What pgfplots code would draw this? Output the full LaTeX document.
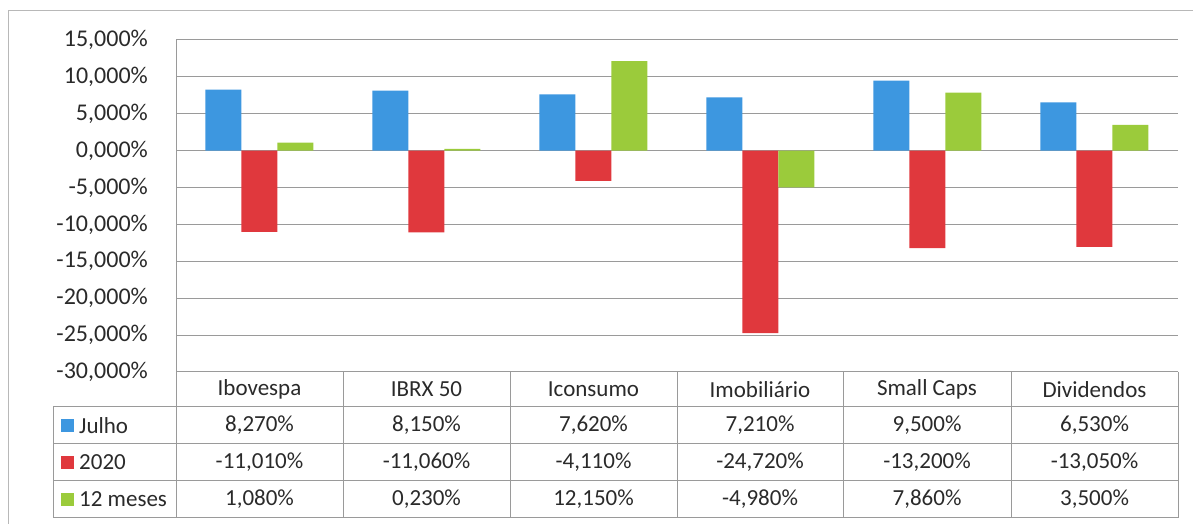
\documentclass[border=0pt]{standalone}
\usepackage{pgfplots}
\pgfplotsset{compat=1.18}
\usepackage{fontspec}
\setmainfont{Carlito}
\definecolor{cblue}{HTML}{3D97E0}
\definecolor{cred}{HTML}{E0383D}
\definecolor{cgreen}{HTML}{9BCB3B}
\definecolor{gridc}{HTML}{9A9A9A}
\definecolor{txt}{HTML}{2A2A2A}
\begin{document}
\begin{tikzpicture}[x=1pt,y=1pt]
\useasboundingbox (0,0) rectangle (1193,524);
\draw[gridc!70, line width=1pt] (8,0) -- (8,513) -- (1193,513);
\begin{axis}[at={(176pt,152pt)}, anchor=south west, scale only axis,
  width=1002pt, height=332pt,
  xmin=-0.5, xmax=5.5, ymin=-30, ymax=15, ytick={-30,-25,...,15}, xtick=\empty,
  ybar=0pt, bar width=36pt,
  axis line style={draw=none}, ymajorgrids, grid style={gridc, line width=1pt},
  major tick length=0pt,
  yticklabel={\pgfmathprintnumber[fixed,fixed zerofill,precision=3,use comma,assume math mode=true]{\tick}\%},
  yticklabel style={font=\fontsize{24}{28}\selectfont, text=txt, inner sep=0pt, xshift=-28pt},
  clip=false]
\addplot[fill=cblue, draw=none] coordinates {(0,8.27) (1,8.15) (2,7.62) (3,7.21) (4,9.50) (5,6.53)};
\addplot[fill=cred, draw=none] coordinates {(0,-11.01) (1,-11.06) (2,-4.11) (3,-24.72) (4,-13.20) (5,-13.05)};
\addplot[fill=cgreen, draw=none] coordinates {(0,1.08) (1,0.23) (2,12.15) (3,-4.98) (4,7.86) (5,3.50)};
\end{axis}
% data table
\begin{scope}[gridc, line width=1pt]
\draw (176,484) -- (176,6);
\draw (176,152) -- (1178,152);
\foreach \yy in {117,80,43,6} \draw (53,\yy) -- (1178,\yy);
\foreach \xx in {343,510,677,843,1011,1178} \draw (\xx,152) -- (\xx,6);
\draw (53,117) -- (53,6);
\end{scope}
\begin{scope}[every node/.style={font=\fontsize{23}{27}\selectfont, text=txt, inner sep=0pt}]
\foreach \xx/\t in {259.5/Ibovespa, 426.5/IBRX 50, 593.5/Iconsumo, 760/Imobiliário, 927/Small Caps, 1094.5/Dividendos}
  \node at (\xx,134.5) {\t};
\foreach \xx/\t in {259.5/8{,}270\%, 426.5/8{,}150\%, 593.5/7{,}620\%, 760/7{,}210\%, 927/9{,}500\%, 1094.5/6{,}530\%}
  \node at (\xx,98.5) {\t};
\foreach \xx/\t in {259.5/-11{,}010\%, 426.5/-11{,}060\%, 593.5/-4{,}110\%, 760/-24{,}720\%, 927/-13{,}200\%, 1094.5/-13{,}050\%}
  \node at (\xx,61.5) {\t};
\foreach \xx/\t in {259.5/1{,}080\%, 426.5/0{,}230\%, 593.5/12{,}150\%, 760/-4{,}980\%, 927/7{,}860\%, 1094.5/3{,}500\%}
  \node at (\xx,24.5) {\t};
\fill[cblue] (61,92) rectangle (74,105);
\fill[cred] (61,55) rectangle (74,68);
\fill[cgreen] (61,18) rectangle (74,31);
\node[anchor=west] at (79,98.5) {Julho};
\node[anchor=west] at (79,61.5) {2020};
\node[anchor=west] at (79,24.5) {12 meses};
\end{scope}
\end{tikzpicture}
\end{document}
